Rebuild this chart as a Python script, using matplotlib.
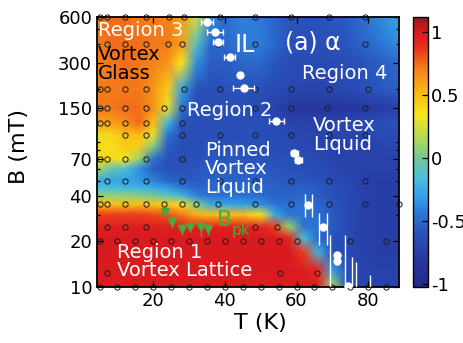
import numpy as np
import matplotlib
matplotlib.use("Agg")
import matplotlib.pyplot as plt
from matplotlib.colors import LinearSegmentedColormap, Normalize
from matplotlib.cm import ScalarMappable
from matplotlib.ticker import FixedLocator, FixedFormatter, NullFormatter, LogLocator

plt.rcParams['font.family'] = ['DejaVu Sans']
plt.rcParams['axes.unicode_minus'] = False

# ---- alpha(T, B) map on a rectilinear grid ----
T_grid = [4, 8, 12, 16, 20, 24, 28, 32, 36, 40, 45, 50, 54, 58, 62, 66, 70, 74, 78, 83, 89]
B_grid = [10, 13, 17, 21, 25, 30, 35, 40, 45, 50, 60, 70, 85, 100, 120, 150, 200, 300, 400, 600]
alpha_map = [
    # B = 10
    [0.98, 0.98, 0.98, 0.98, 0.98, 0.98, 0.98, 0.98, 0.98, 0.98, 0.98, 0.98, 0.98, 0.98, 0.98, 0.95, 0.15, -0.6, -0.7, -0.72, -0.72],
    # B = 13
    [1.0, 1.0, 1.0, 1.0, 1.0, 1.0, 1.0, 1.0, 1.0, 1.0, 1.0, 1.0, 1.0, 1.0, 0.98, 0.9, -0.3, -0.6, -0.7, -0.72, -0.72],
    # B = 17
    [1.0, 1.0, 1.0, 1.0, 1.0, 1.0, 1.0, 1.0, 1.0, 1.0, 1.0, 1.0, 1.0, 1.0, 0.85, -0.2, -0.6, -0.65, -0.72, -0.75, -0.75],
    # B = 21
    [1.0, 1.0, 1.0, 1.0, 1.0, 1.0, 1.0, 1.0, 1.0, 1.0, 1.0, 1.0, 1.0, 0.92, -0.15, -0.5, -0.6, -0.65, -0.72, -0.75, -0.75],
    # B = 25
    [0.97, 0.97, 0.97, 0.97, 0.97, 0.97, 0.97, 0.97, 0.95, 0.95, 0.95, 0.92, 0.85, 0.1, -0.45, -0.45, -0.55, -0.65, -0.72, -0.75, -0.75],
    # B = 30
    [0.85, 0.85, 0.85, 0.85, 0.82, 0.8, 0.72, 0.55, 0.5, 0.5, 0.5, 0.35, -0.25, -0.45, -0.45, -0.48, -0.55, -0.65, -0.72, -0.75, -0.75],
    # B = 35
    [0.5, 0.5, 0.5, 0.5, 0.48, 0.45, 0.4, 0.05, -0.25, -0.28, -0.3, -0.35, -0.45, -0.48, -0.45, -0.5, -0.58, -0.65, -0.72, -0.75, -0.75],
    # B = 40
    [0.08, 0.08, 0.08, 0.05, 0.02, -0.08, -0.2, -0.4, -0.45, -0.45, -0.45, -0.48, -0.52, -0.52, -0.5, -0.55, -0.6, -0.65, -0.72, -0.75, -0.75],
    # B = 45
    [-0.15, -0.15, -0.18, -0.2, -0.25, -0.3, -0.42, -0.5, -0.5, -0.5, -0.5, -0.5, -0.52, -0.55, -0.52, -0.56, -0.6, -0.66, -0.72, -0.75, -0.75],
    # B = 50
    [-0.25, -0.28, -0.3, -0.32, -0.4, -0.5, -0.55, -0.55, -0.52, -0.52, -0.52, -0.52, -0.55, -0.58, -0.58, -0.6, -0.65, -0.7, -0.72, -0.75, -0.75],
    # B = 60
    [0.15, -0.05, -0.15, -0.35, -0.55, -0.6, -0.6, -0.58, -0.55, -0.55, -0.55, -0.55, -0.58, -0.6, -0.62, -0.65, -0.68, -0.7, -0.72, -0.72, -0.72],
    # B = 70
    [0.4, 0.4, 0.35, 0.1, -0.45, -0.6, -0.62, -0.6, -0.58, -0.58, -0.58, -0.6, -0.62, -0.62, -0.62, -0.66, -0.7, -0.72, -0.72, -0.72, -0.7],
    # B = 85
    [0.4, 0.38, 0.45, 0.45, 0.05, -0.55, -0.62, -0.62, -0.6, -0.6, -0.6, -0.62, -0.62, -0.65, -0.68, -0.7, -0.72, -0.72, -0.72, -0.7, -0.68],
    # B = 100
    [0.3, 0.4, 0.5, 0.5, 0.3, -0.45, -0.62, -0.62, -0.62, -0.62, -0.6, -0.62, -0.64, -0.66, -0.68, -0.7, -0.7, -0.7, -0.68, -0.66, -0.62],
    # B = 120
    [0.6, 0.6, 0.65, 0.75, 0.5, -0.2, -0.6, -0.62, -0.62, -0.62, -0.62, -0.62, -0.65, -0.7, -0.72, -0.72, -0.7, -0.68, -0.65, -0.62, -0.58],
    # B = 150
    [0.72, 0.72, 0.75, 0.75, 0.65, 0.3, -0.45, -0.62, -0.62, -0.62, -0.62, -0.65, -0.72, -0.78, -0.82, -0.84, -0.84, -0.82, -0.8, -0.78, -0.72],
    # B = 200
    [0.72, 0.72, 0.72, 0.72, 0.65, 0.45, -0.3, -0.6, -0.62, -0.6, -0.6, -0.62, -0.65, -0.68, -0.7, -0.7, -0.68, -0.66, -0.62, -0.58, -0.52],
    # B = 300
    [0.7, 0.72, 0.75, 0.72, 0.7, 0.65, 0.35, -0.35, -0.55, -0.55, -0.5, -0.5, -0.58, -0.62, -0.65, -0.65, -0.65, -0.62, -0.6, -0.55, -0.48],
    # B = 400
    [0.72, 0.75, 0.75, 0.75, 0.72, 0.72, 0.6, -0.1, -0.5, -0.5, -0.42, -0.42, -0.5, -0.6, -0.62, -0.62, -0.6, -0.58, -0.52, -0.45, -0.35],
    # B = 600
    [0.72, 0.75, 0.75, 0.72, 0.72, 0.7, 0.62, 0.25, -0.35, -0.48, -0.4, -0.42, -0.52, -0.58, -0.6, -0.6, -0.58, -0.55, -0.48, -0.38, -0.28],
]

# ---- measurement points (open circles), grouped by field ----
meas_rows = {
    600: [5, 7, 12, 18, 24.5, 28.5, 38.5, 48.5, 58.5, 69, 79],
    400: [7, 12, 18, 24, 28, 38.2, 48.5, 79],
    200: [5, 7, 12, 18, 28.5, 38.5, 48.5, 58.5, 69, 80],
    150: [5, 7, 12, 18, 23, 28, 48.5, 58.5, 68.5, 79],
    120: [5, 7, 12, 18, 28],
    100: [12, 18, 28, 38.5, 48.5, 58.5, 69, 79],
    70: [5, 7, 12, 18, 28],
    50: [7, 12, 18, 28, 38.5, 48.5, 58.5, 69, 79],
    35: [5, 7, 12, 18, 23, 28, 32, 38, 48.5, 58.5, 69, 79, 88.5],
    24.8: [7, 12, 18, 48.5, 54.5, 68],
    20: [5, 10, 15, 20, 25, 30, 35, 40, 45, 50, 55, 60, 75, 85],
    12.4: [7, 55.5, 65.8],
    10: [5, 10, 15, 20, 25, 30, 35, 40, 45, 50, 55, 60, 65, 70, 75, 80, 85],
}

# ---- irreversibility line (IL) ----
IL_T = [35.0, 37.3, 38.2, 41.3, 44.3, 45.2, 54.4, 59.4, 60.5, 63.3, 67.5, 71.2, 71.2, 74.5]
IL_B = [560, 480, 408, 325, 250, 203, 124, 76, 69, 34.6, 24.9, 16.2, 14.9, 10.1]
IL_dT = [1.8, 2.3, 1.4, 1.5, 0.0, 2.9, 2.1, 1.0, 1.0, 0, 0, 0, 0, 0]
# field bounds of the IL near the zero-field end
ILbar_T = [62.4, 64.3, 66.3, 68.6, 69.4, 73.4, 75.4, 76.5, 80.5]
ILbar_lo = [28.9, 28.9, 18.9, 18.9, 10, 10, 10, 10, 10]
ILbar_hi = [40.8, 40.8, 30.8, 30.8, 22, 22, 15.8, 14.5, 12]

# ---- peak field B_pk ----
Bpk_T = [23.2, 25.1, 28.1, 30.2, 33.3, 35.2]
Bpk_B = [31.3, 26.9, 24.0, 24.7, 24.7, 24.0]
Bpk_dB = [2.5, 2.5, 2.0, 1.6, 3.5, 2.0]
Bpk_dT = [0.6, 0.6, 0.9, 0.9, 1.0, 0.6]

cbar_ticks = [-1, -0.5, 0, 0.5, 1]
y_ticks = [10, 20, 40, 70, 150, 300, 600]
x_ticks = [20, 40, 60, 80]

# jet-like colour scale
cmap_nodes = [
    (-1.02, (0.14, 0.16, 0.52)),
    (-0.80, (0.15, 0.22, 0.63)),
    (-0.60, (0.16, 0.32, 0.73)),
    (-0.45, (0.17, 0.45, 0.83)),
    (-0.30, (0.20, 0.63, 0.91)),
    (-0.15, (0.30, 0.75, 0.85)),
    (0.00, (0.45, 0.78, 0.60)),
    (0.15, (0.68, 0.85, 0.35)),
    (0.35, (0.97, 0.90, 0.12)),
    (0.50, (0.98, 0.75, 0.08)),
    (0.70, (0.96, 0.52, 0.10)),
    (0.90, (0.90, 0.16, 0.12)),
    (1.00, (0.86, 0.10, 0.12)),
    (1.12, (0.55, 0.10, 0.12)),
]
vmin, vmax = -1.02, 1.12
cmap = LinearSegmentedColormap.from_list(
    "alpha_jet", [((v - vmin) / (vmax - vmin), c) for v, c in cmap_nodes], N=512)
norm = Normalize(vmin=vmin, vmax=vmax)

fig = plt.figure(figsize=(4.64, 3.43), dpi=100)
ax = fig.add_axes([97 / 464, 1 - 287 / 343, 302 / 464, 270 / 343])
cax = fig.add_axes([413 / 464, 1 - 287 / 343, 15 / 464, 270 / 343])

ax.set_yscale('log')
ax.pcolormesh(np.array(T_grid), np.array(B_grid), np.array(alpha_map),
              shading='gouraud', cmap=cmap, norm=norm, rasterized=True, zorder=0)

# measurement grid
for b, ts in meas_rows.items():
    ax.plot(ts, [b] * len(ts), linestyle='none', marker='o', ms=3.8,
            mfc='none', mec='#1c1c1c', mew=0.7, zorder=2, clip_on=False)

# IL
ax.vlines(ILbar_T, ILbar_lo, ILbar_hi, colors='white', lw=1.0, zorder=3)
ax.errorbar(IL_T, IL_B, xerr=IL_dT, fmt='o', color='white', ms=5, mec='white',
            elinewidth=1.0, capsize=2, capthick=1.0, zorder=4, clip_on=True)

# B_pk
green = '#4aa83c'
ax.errorbar(Bpk_T, Bpk_B, yerr=Bpk_dB, xerr=Bpk_dT, fmt='v', color=green, ms=6,
            elinewidth=1.0, capsize=0, zorder=4)

ax.set_xlim(4.3, 88.6)
ax.set_ylim(10, 600)
ax.yaxis.set_major_locator(FixedLocator(y_ticks))
ax.yaxis.set_major_formatter(FixedFormatter([str(t) for t in y_ticks]))
ax.yaxis.set_minor_locator(LogLocator(base=10, subs=(2, 3, 4, 5, 6, 7, 8, 9)))
ax.yaxis.set_minor_formatter(NullFormatter())
ax.set_xticks(x_ticks)
ax.tick_params(which='both', direction='in', top=True, right=True, labelsize=13,
               width=0.9, color='black')
ax.tick_params(which='major', length=4)
ax.tick_params(which='minor', length=2.5)
ax.tick_params(axis='x', which='minor', bottom=False, top=False)
for s in ax.spines.values():
    s.set_linewidth(1.3)

ax.set_xlabel('T (K)', fontsize=16)
ax.xaxis.set_label_coords(0.54, -0.095)
ax.set_ylabel('B (mT)', fontsize=16)
ax.yaxis.set_label_coords(-0.225, 0.52)

# region labels
txt = dict(fontsize=14, va='center', ha='left', zorder=5)
ax.text(4.6, 492, 'Region 3', color='white', **txt)
ax.text(4.6, 342, 'Vortex', color='black', **txt)
ax.text(4.6, 256, 'Glass', color='black', **txt)
ax.text(42.6, 392, 'IL', color='white', fontsize=17, va='center', ha='left', zorder=5)
ax.text(56.8, 408, '(a) α', color='white', fontsize=17, va='center', ha='left', zorder=5)
ax.text(61.4, 256, 'Region 4', color='white', **txt)
ax.text(29.4, 146, 'Region 2', color='white', **txt)
ax.text(64.6, 101, 'Vortex\nLiquid', color='white', linespacing=1.0, **txt)
ax.text(34.4, 60, 'Pinned\nVortex\nLiquid', color='white', linespacing=0.95, **txt)
ax.text(9.9, 14.8, 'Region 1\nVortex Lattice', color='white', linespacing=0.95, **txt)
ax.text(37.8, 27.6, 'B', color=green, fontsize=16, va='center', ha='left', zorder=5)
ax.text(42.0, 23.6, 'pk', color=green, fontsize=11, va='center', ha='left', zorder=5)

cb = fig.colorbar(ScalarMappable(norm=norm, cmap=cmap), cax=cax, ticks=cbar_ticks)
cb.ax.set_yticklabels(['-1', '-0.5', '0', '0.5', '1'])
cb.ax.tick_params(direction='in', length=4, width=0.9, labelsize=13, pad=2)
cb.outline.set_linewidth(1.0)

fig.savefig('out.png', dpi=100)
